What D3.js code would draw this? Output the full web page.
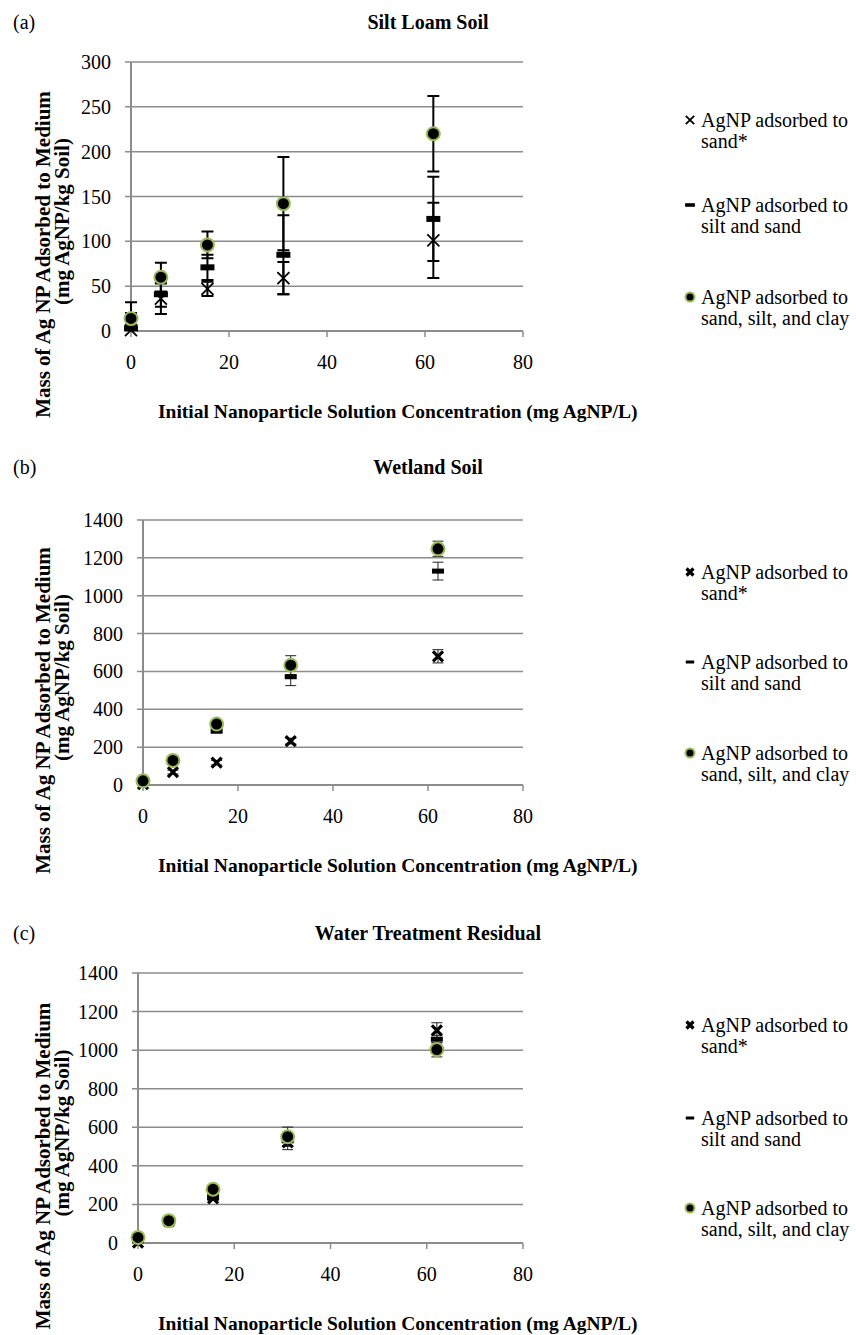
<!DOCTYPE html>
<html>
<head>
<meta charset="utf-8">
<script src="https://cdn.jsdelivr.net/npm/d3@7"></script>
<style>
  body { margin: 0; background: #fff; }
  svg { display: block; font-family: "Liberation Serif", "Times New Roman", serif; }
</style>
</head>
<body>
<svg id="chart" width="856" height="1335"></svg>
<script>
// legend text, two lines per series
const legendLines = [
  ["AgNP adsorbed to", "sand*"],
  ["AgNP adsorbed to", "silt and sand"],
  ["AgNP adsorbed to", "sand, silt, and clay"]
];
const xTicks = [0, 20, 40, 60, 80];
const yTicksA = [0, 50, 100, 150, 200, 250, 300];
const yTicksBC = [0, 200, 400, 600, 800, 1000, 1200, 1400];

// (a) Silt Loam Soil
const concA = [0, 6.1, 15.6, 31.1, 61.7];
const sandA = [1, 36, 47, 59, 101];
const sandErrA = [2, 17, 8, 18, 42];
const siltA = [3, 41, 71, 85, 125];
const siltErrA = [17, 14, 14, 44, 47];
const allA = [14, 60, 96, 142, 220];
const allErrA = [18, 16, 15, 52, 42];

// (b) Wetland Soil
const concB = [0, 6.3, 15.5, 31.1, 62.1];
const sandB = [5, 68, 118, 232, 680];
const sandErrB = [5, 10, 12, 15, 35];
const siltB = [10, 120, 285, 572, 1130];
const siltErrB = [5, 10, 10, 47, 47];
const allB = [22, 130, 322, 633, 1248];
const allErrB = [8, 12, 15, 50, 40];

// (c) Water Treatment Residual
const concC = [0, 6.4, 15.6, 31.1, 62.1];
const sandC = [2, 112, 231, 522, 1102];
const sandErrC = [5, 10, 10, 38, 40];
const siltC = [11, 112, 235, 530, 1057];
const siltErrC = [5, 10, 10, 25, 20];
const allC = [29, 116, 279, 551, 1003];
const allErrC = [8, 15, 15, 50, 38];

const svg = d3.select("#chart");
const green = "#9bbb59", grid = "#8c8c8c";

const panels = [
  { id: "a", label: "(a)", title: "Silt Loam Soil", conc: concA, yTicks: yTicksA,
    series: [[sandA, sandErrA], [siltA, siltErrA], [allA, allErrA]],
    left: 131, right: 523, top: 62, bottom: 331, headY: 22, legendY: [120, 205, 297], bold: false },
  { id: "b", label: "(b)", title: "Wetland Soil", conc: concB, yTicks: yTicksBC,
    series: [[sandB, sandErrB], [siltB, siltErrB], [allB, allErrB]],
    left: 143, right: 523, top: 520, bottom: 785, headY: 467, legendY: [572, 662, 753], bold: true },
  { id: "c", label: "(c)", title: "Water Treatment Residual", conc: concC, yTicks: yTicksBC,
    series: [[sandC, sandErrC], [siltC, siltErrC], [allC, allErrC]],
    left: 138, right: 523, top: 973, bottom: 1243, headY: 933, legendY: [1025, 1118, 1208], bold: true }
];

function drawMarker(g, kind, bold, small) {
  const s = small ? 0.7 : 1;
  if (kind === 0) {
    const h = (bold ? 5 : 6) * s;
    g.append("path")
      .attr("d", `M${-h},${-h}L${h},${h}M${-h},${h}L${h},${-h}`)
      .attr("stroke", "#000").attr("stroke-width", bold ? 3.2 : 1.8).attr("fill", "none");
  } else if (kind === 1) {
    const w = (bold ? 12 : 14) * s, t = (bold ? 5 : 6) * (small ? 0.6 : 1);
    g.append("rect").attr("x", -w / 2).attr("y", -t / 2).attr("width", w).attr("height", t).attr("fill", "#000");
  } else {
    g.append("circle").attr("r", small ? 4.5 : 6.5).attr("fill", "#000")
      .attr("stroke", green).attr("stroke-width", 2);
  }
}

panels.forEach(p => {
  const x = d3.scaleLinear().domain([0, 80]).range([p.left, p.right]);
  const y = d3.scaleLinear().domain([0, d3.max(p.yTicks)]).range([p.bottom, p.top]);
  const g = svg.append("g");

  g.append("text").attr("x", 13).attr("y", p.headY).attr("dy", "0.35em")
    .style("font-size", "20px").text(p.label);
  g.append("text").attr("x", 428).attr("y", p.headY).attr("dy", "0.35em")
    .attr("text-anchor", "middle").style("font-size", "20px").style("font-weight", "bold").text(p.title);

  // gridlines + y ticks
  g.selectAll(".grid").data(p.yTicks).join("line")
    .attr("x1", p.left - 6).attr("x2", p.right)
    .attr("y1", d => y(d)).attr("y2", d => y(d))
    .attr("stroke", grid).attr("stroke-width", 1.5);
  g.selectAll(".ylab").data(p.yTicks).join("text")
    .attr("x", p.left - 20).attr("y", d => y(d)).attr("dy", "0.35em")
    .attr("text-anchor", "end").style("font-size", "20px").text(d => d);

  // axes
  g.append("line").attr("x1", p.left).attr("x2", p.left).attr("y1", p.top).attr("y2", p.bottom)
    .attr("stroke", grid).attr("stroke-width", 2);
  g.append("line").attr("x1", p.left).attr("x2", p.right).attr("y1", p.bottom).attr("y2", p.bottom)
    .attr("stroke", grid).attr("stroke-width", 2);
  g.selectAll(".xt").data(xTicks).join("line")
    .attr("x1", d => x(d)).attr("x2", d => x(d)).attr("y1", p.bottom).attr("y2", p.bottom + 6)
    .attr("stroke", grid).attr("stroke-width", 1.5);
  g.selectAll(".xlab").data(xTicks).join("text")
    .attr("x", d => x(d)).attr("y", p.bottom + 31).attr("dy", "0.35em")
    .attr("text-anchor", "middle").style("font-size", "20px").text(d => d);

  // axis titles
  g.append("text").attr("x", 158).attr("y", p.bottom + 80).attr("dy", "0.35em")
    .style("font-size", "19.5px").style("font-weight", "bold")
    .text("Initial Nanoparticle Solution Concentration (mg AgNP/L)");
  const cy = (p.top + p.bottom) / 2;
  g.append("text").attr("transform", `translate(50,${cy + 58}) rotate(-90)`)
    .attr("text-anchor", "middle").style("font-size", "21px").style("font-weight", "bold")
    .text("Mass of Ag NP Adsorbed to Medium");
  g.append("text").attr("transform", `translate(69,${cy + 25}) rotate(-90)`)
    .attr("text-anchor", "middle").style("font-size", "21px").style("font-weight", "bold")
    .text("(mg AgNP/kg Soil)");

  // error bars clipped to plot area
  svg.append("clipPath").attr("id", "clip-" + p.id).append("rect")
    .attr("x", p.left - 20).attr("y", p.top - 20).attr("width", p.right - p.left + 40)
    .attr("height", p.bottom - p.top + 20);
  const bars = g.append("g").attr("clip-path", `url(#clip-${p.id})`);
  const cap = p.bold ? 5.5 : 6;
  p.series.forEach(([vals, errs]) => {
    const pts = vals.map((v, i) => ({ x: p.conc[i], v, e: errs[i] }));
    bars.selectAll(null).data(pts).join("path")
      .attr("d", d => {
        const px = x(d.x), y1 = y(d.v + d.e), y0 = y(d.v - d.e);
        return `M${px},${y1}V${y0}M${px - cap},${y1}H${px + cap}M${px - cap},${y0}H${px + cap}`;
      })
      .attr("fill", "none")
      .attr("stroke", p.bold ? "#222" : "#000")
      .attr("stroke-width", p.bold ? 1 : 2);
  });

  // markers
  p.series.forEach(([vals], k) => {
    vals.forEach((v, i) => {
      const m = g.append("g").attr("transform", `translate(${x(p.conc[i])},${y(v)})`);
      drawMarker(m, k, p.bold, false);
    });
  });

  // legend
  legendLines.forEach((lines, k) => {
    const ly = p.legendY[k];
    const m = g.append("g").attr("transform", `translate(690,${ly})`);
    drawMarker(m, k, p.bold, true);
    lines.forEach((t, j) => {
      g.append("text").attr("x", 701).attr("y", ly + j * 21).attr("dy", "0.35em")
        .style("font-size", "20px").text(t);
    });
  });
});
</script>
</body>
</html>
